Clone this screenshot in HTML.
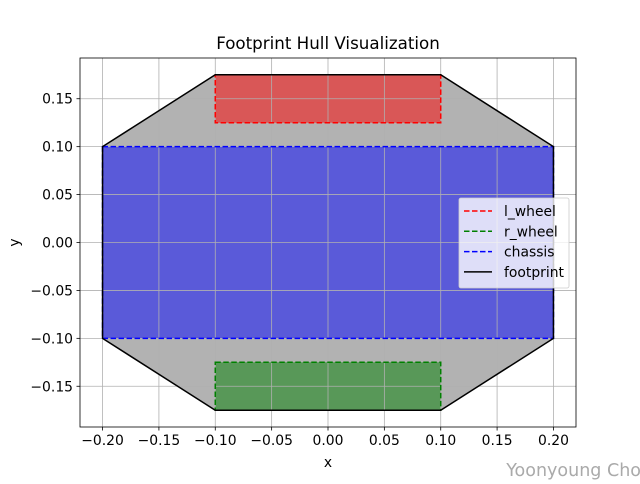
<!DOCTYPE html>
<html><head><meta charset="utf-8"><style>
body{margin:0;background:#fff;font-family:"DejaVu Sans","Liberation Sans",sans-serif}
text{font-family:"DejaVu Sans","Liberation Sans",sans-serif}
</style></head><body>
<svg id="chart" width="640" height="480" xmlns="http://www.w3.org/2000/svg"></svg>
<script>
const xTicks=[-0.20,-0.15,-0.10,-0.05,0.00,0.05,0.10,0.15,0.20];
const yTicks=[-0.15,-0.10,-0.05,0.00,0.05,0.10,0.15];
const footprintX=[-0.1,0.1,0.2,0.2,0.1,-0.1,-0.2,-0.2];
const footprintY=[0.175,0.175,0.1,-0.1,-0.175,-0.175,-0.1,0.1];
const lWheelX=[-0.1,0.1,0.1,-0.1];
const lWheelY=[0.175,0.175,0.125,0.125];
const rWheelX=[-0.1,0.1,0.1,-0.1];
const rWheelY=[-0.125,-0.125,-0.175,-0.175];
const chassisX=[-0.2,0.2,0.2,-0.2];
const chassisY=[0.1,0.1,-0.1,-0.1];
const L=80,R=576,T=58,B=427,xmin=-0.22,xmax=0.22,ymin=-0.1925,ymax=0.1925;
const sx=v=>L+(v-xmin)/(xmax-xmin)*(R-L);
const sy=v=>B-(v-ymin)/(ymax-ymin)*(B-T);
const svg=document.getElementById('chart');
const NS='http://www.w3.org/2000/svg';
function mk(tag,attrs,parent){const e=document.createElementNS(NS,tag);for(const k in attrs)e.setAttribute(k,attrs[k]);(parent||svg).appendChild(e);return e;}
function pts(xs,ys){return xs.map((x,i)=>sx(x)+','+sy(ys[i])).join(' ');}
const fmt=v=>(v<0?'\u2212':'')+Math.abs(v).toFixed(2);
let e;
e=mk('rect',{x:L,y:T,width:R-L,height:B-T,fill:'#fff'});


e=mk('polygon',{points:pts(footprintX,footprintY),fill:'#b2b2b2'});


e=mk('polygon',{points:pts(chassisX,chassisY),fill:'#5a5ad9'});


e=mk('polygon',{points:pts(lWheelX,lWheelY),fill:'#d95757'});


e=mk('polygon',{points:pts(rWheelX,rWheelY),fill:'#589858'});


xTicks.forEach(v=>{
  e=mk('line',{x1:sx(v),x2:sx(v),y1:T,y2:B,stroke:'#b0b0b0','stroke-width':0.8});
  
  
  mk('line',{x1:sx(v),x2:sx(v),y1:B,y2:B+3.5,stroke:'#000','stroke-width':0.8});
  e=mk('text',{x:sx(v),y:B+18,'font-size':13.9,'text-anchor':'middle'});
  e.textContent=fmt(v);
  
  
});
yTicks.forEach(v=>{
  e=mk('line',{x1:L,x2:R,y1:sy(v),y2:sy(v),stroke:'#b0b0b0','stroke-width':0.8});
  
  
  mk('line',{x1:L-3.5,x2:L,y1:sy(v),y2:sy(v),stroke:'#000','stroke-width':0.8});
  e=mk('text',{x:L-7,y:sy(v)+5,'font-size':13.9,'text-anchor':'end'});
  e.textContent=fmt(v);
  
  
});
e=mk('polygon',{points:pts(chassisX,chassisY),fill:'none',stroke:'#0000ff','stroke-width':1.5,'stroke-dasharray':'5.5,2.5'});


e=mk('polygon',{points:pts(lWheelX,lWheelY),fill:'none',stroke:'#ff0000','stroke-width':1.5,'stroke-dasharray':'5.5,2.5'});


e=mk('polygon',{points:pts(rWheelX,rWheelY),fill:'none',stroke:'#008000','stroke-width':1.5,'stroke-dasharray':'5.5,2.5'});


e=mk('polygon',{points:pts(footprintX,footprintY),fill:'none',stroke:'#000','stroke-width':1.5});


e=mk('rect',{x:L,y:T,width:R-L,height:B-T,fill:'none',stroke:'#000','stroke-width':0.8});


e=mk('text',{x:(L+R)/2,y:49,'font-size':16.7,'text-anchor':'middle'});
e.textContent='Footprint Hull Visualization';


e=mk('text',{x:(L+R)/2,y:467,'font-size':13.9,'text-anchor':'middle'});
e.textContent='x';


e=mk('text',{x:19,y:(T+B)/2,'font-size':13.9,'text-anchor':'middle',transform:'rotate(-90 19 '+((T+B)/2)+')'});
e.textContent='y';


const lg=mk('g',{});


mk('rect',{x:459,y:198,width:110,height:90,rx:2,fill:'#fff','fill-opacity':0.8,stroke:'#ccc','stroke-width':0.8},lg);
const legendLabels=['l_wheel','r_wheel','chassis','footprint'];
const legendColors=['#ff0000','#008000','#0000ff','#000'];
legendLabels.forEach((lab,i)=>{
  const y=211+i*20.3;
  const g=mk('g',{},lg);
  
  
  mk('line',{x1:464,x2:492,y1:y,y2:y,stroke:legendColors[i],'stroke-width':1.5,'stroke-dasharray':i<3?'5.5,2.5':'none'},g);
  const t=mk('text',{x:504,y:y+5,'font-size':13.9},g);
  t.textContent=lab;
});
e=mk('text',{x:641,y:476,'font-size':17.5,'text-anchor':'end',fill:'#aaa'});
e.textContent='Yoonyoung Cho';


</script>
</body></html>
